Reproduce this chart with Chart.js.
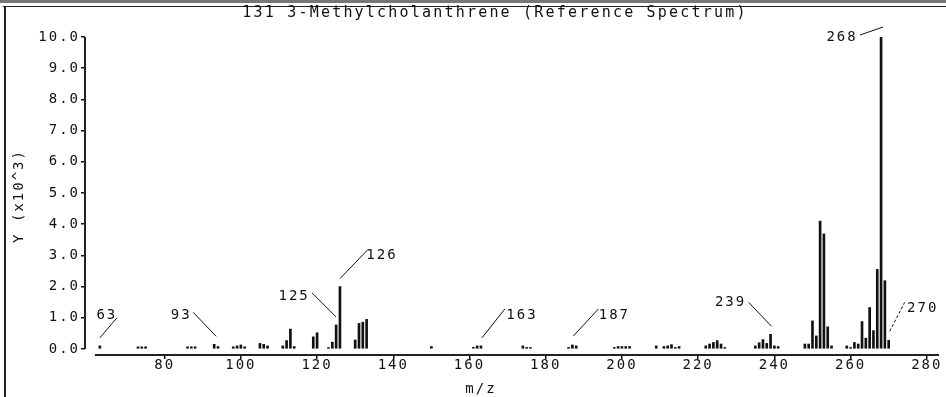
<!DOCTYPE html>
<html>
<head>
<meta charset="utf-8">
<script src="https://cdn.jsdelivr.net/npm/chart.js@4.4.1/dist/chart.umd.min.js"></script>
<style>
  html, body { margin: 0; padding: 0; background: #fff; }
  #wrap { width: 946px; height: 397px; }
</style>
</head>
<body>
<div id="wrap"><canvas id="spectrumChart" width="946" height="397"></canvas></div>
<script>
// peaks (m/z and intensity in units of 10^3)
const mz = [
  63, 73, 74, 75, 86, 87, 88, 93, 94, 98, 99, 100, 101, 105, 106, 107,
  111, 112, 113, 114, 119, 120, 123, 124, 125, 126, 130, 131, 132, 133,
  150, 161, 162, 163, 174, 175, 176, 186, 187, 188, 198, 199, 200, 201, 202,
  209, 211, 212, 213, 214, 215, 222, 223, 224, 225, 226, 227,
  235, 236, 237, 238, 239, 240, 241, 248, 249, 250, 251, 252, 253, 254, 255,
  259, 260, 261, 262, 263, 264, 265, 266, 267, 268, 269, 270
];
const intensity = [
  0.10, 0.07, 0.07, 0.07, 0.07, 0.07, 0.07, 0.15, 0.08, 0.07, 0.10, 0.13, 0.07, 0.18, 0.15, 0.10,
  0.10, 0.27, 0.64, 0.08, 0.39, 0.52, 0.05, 0.22, 0.77, 2.00, 0.29, 0.82, 0.86, 0.95,
  0.08, 0.05, 0.10, 0.10, 0.10, 0.05, 0.05, 0.05, 0.13, 0.10, 0.05, 0.08, 0.08, 0.08, 0.08,
  0.10, 0.08, 0.10, 0.14, 0.05, 0.08, 0.10, 0.16, 0.21, 0.27, 0.16, 0.05,
  0.10, 0.20, 0.30, 0.18, 0.47, 0.10, 0.08, 0.16, 0.16, 0.90, 0.42, 4.10, 3.69, 0.71, 0.10,
  0.10, 0.05, 0.21, 0.16, 0.88, 0.35, 1.33, 0.59, 2.55, 10.00, 2.19, 0.28
];
const xTicks = [80, 100, 120, 140, 160, 180, 200, 220, 240, 260, 280];
const yTicks = [0, 1, 2, 3, 4, 5, 6, 7, 8, 9, 10];
const labelledPeaks = [63, 93, 125, 126, 163, 187, 239, 268, 270];

const chartTitle = "131 3-Methylcholanthrene (Reference Spectrum)";
const xTitle = "m/z";
const yTitle = "Y (x10^3)";

// axis ranges
const X_MIN = 59.1, X_MAX = 283.2, X_LINE_START = 61.7;
const Y_MIN = -0.192, Y_MAX = 10;

const FONT = "'DejaVu Sans Mono', monospace";
const INK = "#111";

// leader line offsets [x0, y0, x1, y1] and text centre [tx, ty], px from the peak top
const peakLabelStyle = {
  63:  { line: [0, -8, 17, -28],  text: [7, -31] },
  93:  { line: [2, -8, -21, -32], text: [-33, -29] },
  125: { line: [0, -8, -24, -32], text: [-42, -29] },
  126: { line: [0, -8, 28, -37],  text: [42, -31] },
  163: { line: [1, -8, 24, -37],  text: [41, -31] },
  187: { line: [1, -9, 26, -36],  text: [42, -30] },
  239: { line: [1, -8, -22, -32], text: [-40, -32] },
  268: { line: [-21, -2, 2, -10], text: [-39, 0] },
  270: { line: [1, -9, 16, -38],  text: [34, -32], dash: [3, 2] }
};

const spectrumDecor = {
  id: "spectrumDecor",
  beforeLayout(chart) { chart.ctx.letterSpacing = "2px"; },
  beforeDraw(chart) { chart.ctx.letterSpacing = "2px"; },
  afterDraw(chart) {
    const ctx = chart.ctx;
    const xs = chart.scales.x;
    const ys = chart.scales.y;
    const area = chart.chartArea;
    ctx.save();

    // outer frame
    ctx.fillStyle = "#777";
    ctx.fillRect(0, 0, 946, 3);
    ctx.fillStyle = "#222";
    ctx.fillRect(3, 6, 943, 1);
    ctx.fillRect(4, 6, 2, 391);

    // axis lines
    ctx.strokeStyle = "#222";
    ctx.lineWidth = 2;
    ctx.beginPath();
    ctx.moveTo(area.left, ys.getPixelForValue(Y_MAX));
    ctx.lineTo(area.left, ys.getPixelForValue(0));
    ctx.moveTo(xs.getPixelForValue(X_LINE_START), area.bottom);
    ctx.lineTo(area.right, area.bottom);
    ctx.stroke();

    // peak labels
    ctx.lineWidth = 1;
    ctx.strokeStyle = INK;
    ctx.fillStyle = INK;
    ctx.font = "14px " + FONT;
    ctx.textAlign = "center";
    ctx.textBaseline = "middle";
    labelledPeaks.forEach((p) => {
      const i = mz.indexOf(p);
      const bx = xs.getPixelForValue(p);
      const by = ys.getPixelForValue(intensity[i]);
      const s = peakLabelStyle[p];
      ctx.setLineDash(s.dash || []);
      ctx.beginPath();
      ctx.moveTo(bx + s.line[0], by + s.line[1]);
      ctx.lineTo(bx + s.line[2], by + s.line[3]);
      ctx.stroke();
      ctx.fillText(String(p), bx + s.text[0], by + s.text[1]);
    });
    ctx.setLineDash([]);

    // titles
    ctx.fillText(xTitle, 481, 389);
    ctx.font = "15px " + FONT;
    ctx.letterSpacing = "2.2px";
    ctx.fillText(chartTitle, 495, 13);
    ctx.restore();
  }
};

const chartSpectrum = new Chart(document.getElementById("spectrumChart"), {
  type: "bar",
  data: {
    datasets: [{
      data: mz.map((m, i) => ({ x: m, y: intensity[i] })),
      backgroundColor: INK,
      borderWidth: 0,
      barThickness: 2,
      grouped: false
    }]
  },
  options: {
    responsive: false,
    animation: false,
    devicePixelRatio: 1,
    layout: { padding: { top: 37, right: 7, left: 0, bottom: 0 } },
    plugins: {
      legend: { display: false },
      tooltip: { enabled: false },
      title: { display: false }
    },
    scales: {
      x: {
        type: "linear",
        min: X_MIN,
        max: X_MAX,
        offset: false,
        grid: { offset: false, drawOnChartArea: false, drawTicks: true, tickLength: 4, color: INK, lineWidth: 1.5 },
        border: { display: false },
        ticks: { font: { family: FONT, size: 14 }, color: INK, padding: -2, maxRotation: 0, autoSkip: false },
        afterBuildTicks: (s) => { s.ticks = xTicks.map((v) => ({ value: v })); },
        afterFit: (s) => { s.height = 42; }
      },
      y: {
        min: Y_MIN,
        max: Y_MAX,
        grid: { drawOnChartArea: false, drawTicks: true, tickLength: 4, color: INK, lineWidth: 1.5 },
        border: { display: false },
        ticks: {
          font: { family: FONT, size: 14 },
          color: INK,
          padding: 1,
          callback: (v) => v.toFixed(1)
        },
        title: {
          display: true,
          text: yTitle,
          color: INK,
          font: { family: FONT, size: 14 },
          padding: { top: 11, bottom: 0 }
        },
        afterBuildTicks: (s) => { s.ticks = yTicks.map((v) => ({ value: v })); },
        afterFit: (s) => { s.width = 85; }
      }
    }
  },
  plugins: [spectrumDecor]
});
</script>
</body>
</html>
